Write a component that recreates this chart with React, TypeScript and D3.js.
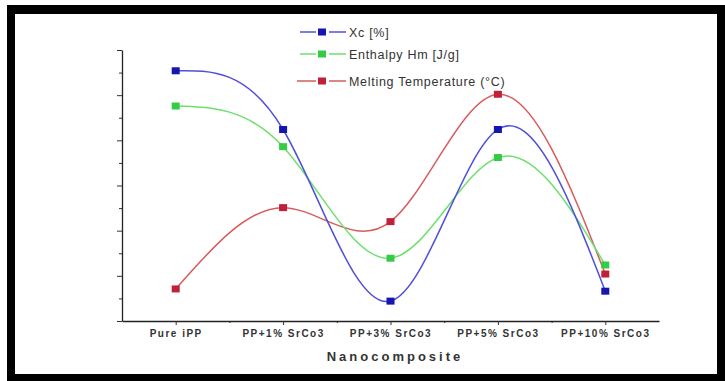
// App.tsx
import * as d3 from 'd3';
import React, { useRef, useEffect } from 'react';

const categories = ["Pure iPP", "PP+1% SrCo3", "PP+3% SrCo3", "PP+5% SrCo3", "PP+10% SrCo3"];
const xcValues = [5.54, 4.24, 0.44, 4.24, 0.66];
const enthalpyValues = [4.76, 3.86, 1.39, 3.62, 1.24];
const meltingValues = [0.71, 2.51, 2.20, 5.02, 1.04];
const seriesNames = ["Xc [%]", "Enthalpy Hm [J/g]", "Melting Temperature (°C)"];
const yMajorTicks = [0, 1, 2, 3, 4, 5, 6];
const yMinorTicks = [0.5, 1.5, 2.5, 3.5, 4.5, 5.5];

const width = 725;
const height = 381;

function App() {
    const ref = useRef<SVGSVGElement>(null);

    useEffect(() => {
        draw();
    }, []);

    const draw = () => {
        const svg = d3.select(ref.current);
        svg.selectAll("*").remove();

        // black frame
        svg.append("rect").attr("x", 7).attr("y", 5).attr("width", width - 7).attr("height", height - 5).attr("fill", "#000");
        svg.append("rect").attr("x", 15).attr("y", 14).attr("width", 702).attr("height", 360).attr("fill", "#fff");

        const scaleX = d3.scaleLinear().domain([0.5, 5.5]).range([122, 659]);
        const scaleY = d3.scaleLinear().domain([0, 6]).range([321, 50]);

        // y axis, no labels
        svg.append("g")
            .attr("transform", "translate(122,0)")
            .call(d3.axisLeft(scaleY).tickValues(yMinorTicks).tickSize(3).tickFormat(() => "").tickSizeOuter(0))
            .call(g => g.select(".domain").remove());
        svg.append("g")
            .attr("class", "axis y")
            .attr("transform", "translate(122,0)")
            .call(d3.axisLeft(scaleY).tickValues(yMajorTicks).tickSize(5).tickFormat(() => "").tickSizeOuter(0));

        // x axis
        svg.append("g")
            .attr("transform", "translate(0,321)")
            .call(d3.axisBottom(scaleX).tickValues([1.5, 2.5, 3.5, 4.5]).tickSize(2).tickFormat(() => "").tickSizeOuter(0))
            .call(g => g.select(".domain").remove());
        const xg = svg.append("g")
            .attr("class", "axis x")
            .attr("transform", "translate(0,321)")
            .call(d3.axisBottom(scaleX).tickValues([1, 2, 3, 4, 5]).tickSize(4).tickSizeOuter(0)
                .tickFormat((d) => categories[(d as number) - 1]));
        xg.selectAll("text")
            .attr("y", 9)
            .attr("font-family", "Arial, 'Liberation Sans', sans-serif")
            .attr("font-size", 10)
            .attr("font-weight", "bold")
            .attr("letter-spacing", 1.5)
            .attr("fill", "#333");

        svg.selectAll(".domain").attr("stroke", "#222").attr("stroke-width", 1.3);
        svg.selectAll(".tick line").attr("stroke", "#333");

        svg.append("text")
            .attr("x", 395)
            .attr("y", 361)
            .attr("text-anchor", "middle")
            .attr("font-family", "Arial, 'Liberation Sans', sans-serif")
            .attr("font-size", 13)
            .attr("font-weight", "bold")
            .attr("letter-spacing", 3)
            .attr("fill", "#333")
            .text("Nanocomposite");

        const series = [
            { name: seriesNames[2], values: meltingValues, line: "#d65c5c", mark: "#c0203a" },
            { name: seriesNames[1], values: enthalpyValues, line: "#6ee06e", mark: "#33cc44" },
            { name: seriesNames[0], values: xcValues, line: "#5050d8", mark: "#1515b0" },
        ];

        const line = d3.line<number>()
            .x((d, i) => scaleX(i + 1))
            .y(d => scaleY(d))
            .curve(d3.curveNatural);

        series.forEach(s => {
            svg.append("path")
                .attr("d", line(s.values))
                .attr("fill", "none")
                .attr("stroke", s.line)
                .attr("stroke-width", 1.5);
        });
        series.forEach(s => {
            svg.selectAll(null)
                .data(s.values).enter()
                .append("rect")
                .attr("x", (d, i) => scaleX(i + 1) - 4)
                .attr("y", d => scaleY(d) - 3.5)
                .attr("width", 8)
                .attr("height", 7)
                .attr("fill", s.mark);
        });

        // legend
        const legendY = [32, 54, 81];
        const legendOrder = [series[2], series[1], series[0]];
        legendOrder.forEach((s, i) => {
            const y = legendY[i];
            const g = svg.append("g");
            g.append("line").attr("x1", i == 2 ? 297 : 300).attr("x2", 316).attr("y1", y).attr("y2", y).attr("stroke", s.line).attr("stroke-width", 1.5);
            g.append("line").attr("x1", 329).attr("x2", 346).attr("y1", y).attr("y2", y).attr("stroke", s.line).attr("stroke-width", 1.5);
            g.append("rect").attr("x", 318).attr("y", y - 3.5).attr("width", 8).attr("height", 7).attr("fill", s.mark);
            g.append("text")
                .attr("x", 349)
                .attr("y", y + 4.5)
                .attr("font-family", "Arial, 'Liberation Sans', sans-serif")
                .attr("font-size", 12.5)
                .attr("letter-spacing", 0.7)
                .attr("fill", "#333")
                .text(s.name);
        });
    };

    return (
        <div style={{ position: "absolute", left: 0, top: 0 }}>
            <svg ref={ref} width={width} height={height} style={{ display: "block" }}></svg>
        </div>
    );
}

export default App;
